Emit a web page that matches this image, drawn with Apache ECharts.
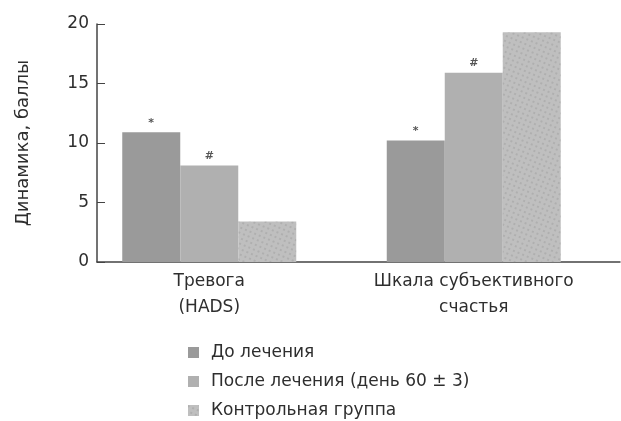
<!DOCTYPE html>
<html>
<head>
<meta charset="utf-8">
<script src="https://cdn.jsdelivr.net/npm/echarts@6/dist/echarts.min.js"></script>
<style>
  html, body { margin: 0; padding: 0; background: #fff; }
  #chart { width: 621px; height: 421px; }
</style>
</head>
<body>
<div id="chart"></div>
<script>
var categories = ['Тревога\n(HADS)', 'Шкала субъективного\nсчастья'];
var seriesNames = ['До лечения', 'После лечения (день 60 ± 3)', 'Контрольная группа'];
var beforeValues = [10.9, 10.2];
var afterValues = [8.1, 15.9];
var controlValues = [3.4, 19.3];
var beforeMarks = ['*', '*'];
var afterMarks = ['#', '#'];

var font = 'DejaVu Sans';
var textColor = '#2e2e2e';
var colors = ['#9a9a9a', '#b0b0b0', '#bfbfbf'];

var myChart = echarts.init(document.getElementById('chart'));

function markLabel(marks) {
    return {
        show: true,
        position: 'top',
        distance: 4,
        fontFamily: font,
        fontSize: 11,
        fontWeight: 'bold',
        color: '#555',
        formatter: function (p) { return marks[p.dataIndex]; }
    };
}

var option = {
    backgroundColor: '#fff',
    animation: false,
    textStyle: { fontFamily: font },
    legend: {
        orient: 'vertical',
        left: 188,
        top: 344,
        height: 80,
        padding: 0,
        itemWidth: 11,
        itemHeight: 11,
        itemGap: 12,
        icon: 'rect',
        textStyle: { fontFamily: font, fontSize: 17, color: textColor, padding: [0, 0, 0, 7] },
        data: seriesNames
    },
    grid: [
        // axis frame: y axis and baseline
        { left: 97, right: 1, top: 24, bottom: 159 },
        // bars
        { left: 77, width: 529, top: 24, bottom: 159 }
    ],
    xAxis: [{
        gridIndex: 0,
        type: 'value',
        min: 0,
        max: 1,
        axisLine: { show: true, lineStyle: { color: '#444', width: 1.5 } },
        axisTick: { show: false },
        axisLabel: { show: false },
        splitLine: { show: false }
    }, {
        gridIndex: 1,
        type: 'category',
        data: categories,
        axisLine: { show: false },
        axisTick: { show: false },
        axisLabel: {
            fontFamily: font,
            fontSize: 17,
            color: textColor,
            lineHeight: 26,
            margin: 7
        }
    }],
    yAxis: [{
        gridIndex: 0,
        type: 'value',
        min: 0,
        max: 20,
        interval: 5,
        name: 'Динамика, баллы',
        nameLocation: 'middle',
        nameGap: 65,
        nameTextStyle: { fontFamily: font, fontSize: 18, color: textColor },
        axisLine: { show: true, lineStyle: { color: '#444', width: 1.5 } },
        axisTick: { show: true, inside: true, length: 8, lineStyle: { color: '#444' } },
        axisLabel: { fontFamily: font, fontSize: 17, color: textColor, margin: 8 },
        splitLine: { show: false }
    }, {
        gridIndex: 1,
        type: 'value',
        min: 0,
        max: 20,
        interval: 5,
        show: false,
        splitLine: { show: false }
    }],
    series: [{
        name: seriesNames[0],
        type: 'bar',
        xAxisIndex: 1,
        yAxisIndex: 1,
        data: beforeValues,
        barWidth: 58,
        barGap: '0%',
        itemStyle: { color: colors[0] },
        label: markLabel(beforeMarks)
    }, {
        name: seriesNames[1],
        type: 'bar',
        xAxisIndex: 1,
        yAxisIndex: 1,
        data: afterValues,
        barWidth: 58,
        barGap: '0%',
        itemStyle: { color: colors[1] },
        label: markLabel(afterMarks)
    }, {
        name: seriesNames[2],
        type: 'bar',
        xAxisIndex: 1,
        yAxisIndex: 1,
        data: controlValues,
        barWidth: 58,
        barGap: '0%',
        itemStyle: {
            color: colors[2],
            decal: {
                symbol: 'rect',
                symbolSize: 1,
                color: 'rgba(120,120,120,0.22)',
                dashArrayX: [2, 3],
                dashArrayY: [2, 3],
                rotation: 0.4
            }
        }
    }]
};

myChart.setOption(option);
</script>
</body>
</html>
